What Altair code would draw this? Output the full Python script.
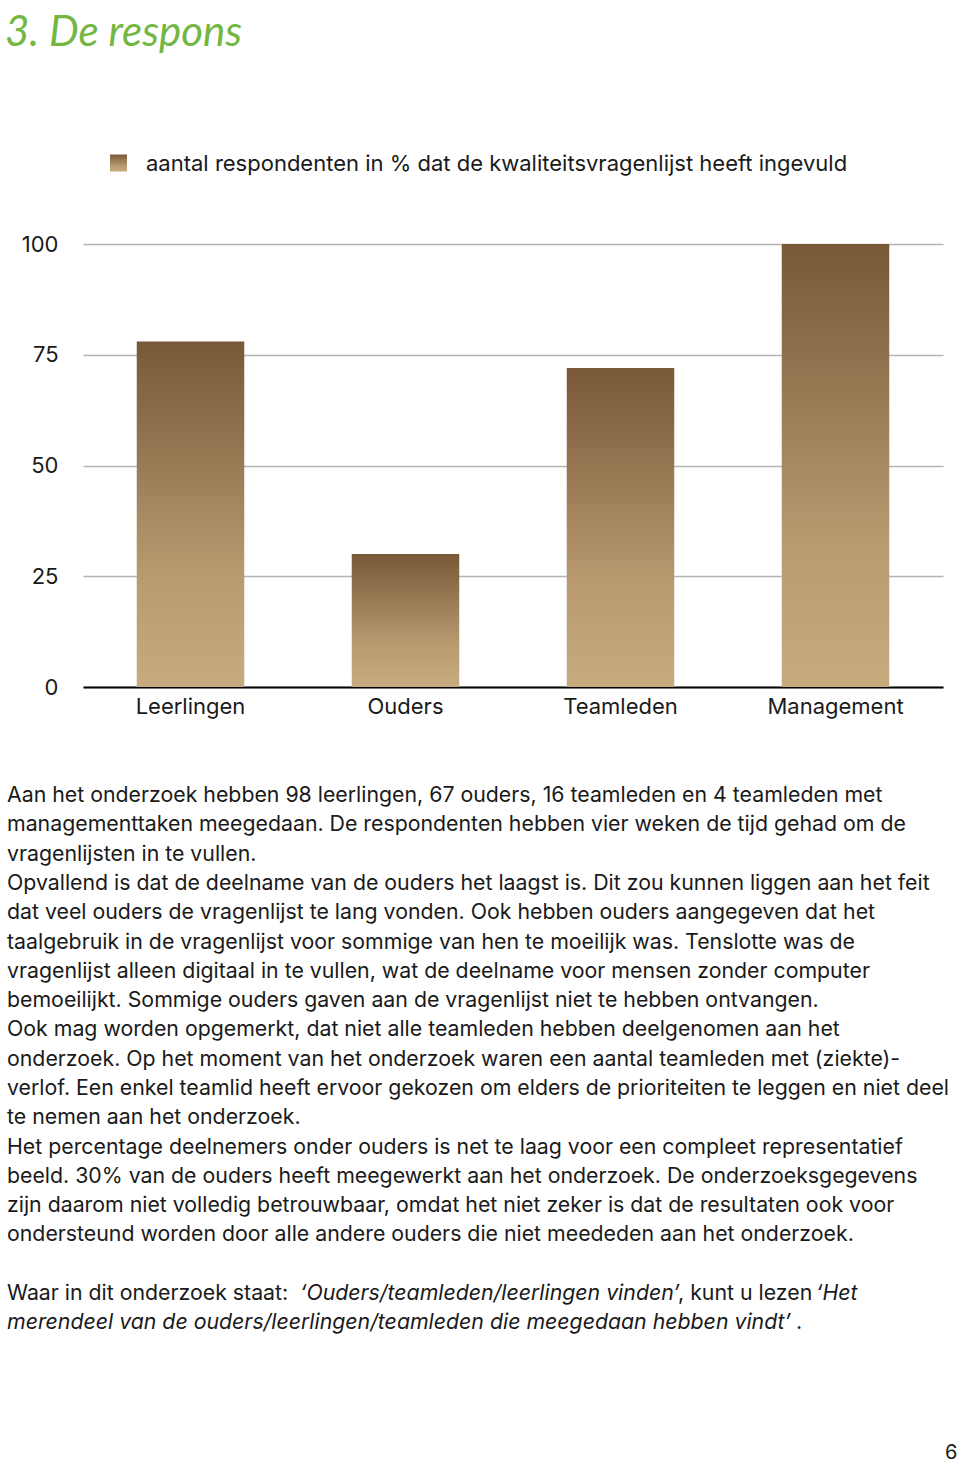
import altair as alt
import pandas as pd

# ---- data ----
categories = ["Leerlingen", "Ouders", "Teamleden", "Management"]
values = [78, 30, 72, 100]
y_ticks = [0, 25, 50, 75, 100]

title_text = "3. De respons"
legend_label = "aantal respondenten in % dat de kwaliteitsvragenlijst heeft ingevuld"
page_number = "6"

paragraph_lines = [
    "Aan het onderzoek hebben 98 leerlingen, 67 ouders, 16 teamleden en 4 teamleden met",
    "managementtaken meegedaan. De respondenten hebben vier weken de tijd gehad om de",
    "vragenlijsten in te vullen.",
    "Opvallend is dat de deelname van de ouders het laagst is. Dit zou kunnen liggen aan het feit",
    "dat veel ouders de vragenlijst te lang vonden. Ook hebben ouders aangegeven dat het",
    "taalgebruik in de vragenlijst voor sommige van hen te moeilijk was. Tenslotte was de",
    "vragenlijst alleen digitaal in te vullen, wat de deelname voor mensen zonder computer",
    "bemoeilijkt. Sommige ouders gaven aan de vragenlijst niet te hebben ontvangen.",
    "Ook mag worden opgemerkt, dat niet alle teamleden hebben deelgenomen aan het",
    "onderzoek. Op het moment van het onderzoek waren een aantal teamleden met (ziekte)-",
    "verlof. Een enkel teamlid heeft ervoor gekozen om elders de prioriteiten te leggen en niet deel",
    "te nemen aan het onderzoek.",
    "Het percentage deelnemers onder ouders is net te laag voor een compleet representatief",
    "beeld. 30% van de ouders heeft meegewerkt aan het onderzoek. De onderzoeksgegevens",
    "zijn daarom niet volledig betrouwbaar, omdat het niet zeker is dat de resultaten ook voor",
    "ondersteund worden door alle andere ouders die niet meededen aan het onderzoek.",
]

closing_line1 = ["Waar in dit onderzoek staat: ", "‘Ouders/teamleden/leerlingen vinden’", ", kunt u lezen ", "‘Het"]
closing_line2 = ["merendeel van de ouders/leerlingen/teamleden die meegedaan hebben vindt’", "."]

# ---- layout / style (not data) ----
FONT = "Inter"
TXT = "#1a1a1a"
PLOT_L, PLOT_T, PLOT_W, PLOT_H = 83, 244, 860, 443
LH = 29.3
P_X = 7 - PLOT_L
P_Y0 = 802 - PLOT_T
BODY = 21.3

bar_gradient = alt.LinearGradient(
    gradient="linear",
    stops=[
        alt.GradientStop(offset=0, color="#785836"),
        alt.GradientStop(offset=0.35, color="#9a7a55"),
        alt.GradientStop(offset=0.7, color="#bb9c72"),
        alt.GradientStop(offset=1, color="#c8aa7f"),
    ],
    x1=0, x2=0, y1=0, y2=1,
)

df = pd.DataFrame({"categorie": categories, "waarde": values})
one = pd.DataFrame({"k": [0]})

bars = alt.Chart(df).mark_bar(color=bar_gradient).encode(
    x=alt.X(
        "categorie:N",
        sort=categories,
        scale=alt.Scale(paddingInner=0.5, paddingOuter=0.25),
        axis=alt.Axis(
            title=None, labelAngle=0, ticks=False, domainColor="#000000",
            domainWidth=2, labelFont=FONT, labelFontSize=22, labelColor=TXT,
            labelPadding=9,
        ),
    ),
    y=alt.Y(
        "waarde:Q",
        scale=alt.Scale(domain=[0, 100], nice=False),
        axis=alt.Axis(
            title=None, values=y_ticks, domain=False, ticks=False,
            grid=True, gridColor="#b4b4b4", gridWidth=1.5,
            labelFont=FONT, labelFontSize=22, labelColor=TXT, labelPadding=25,
        ),
    ),
)


def text_layer(txt, x, y, size=BODY, color=TXT, italic=False, font=FONT, baseline="alphabetic", **kw):
    return alt.Chart(one).mark_text(
        text=txt, align="left", baseline=baseline, font=font, fontSize=size,
        color=color, fontStyle="italic" if italic else "normal", **kw
    ).encode(x=alt.value(x), y=alt.value(y))


title = text_layer(title_text, 5 - PLOT_L, 46 - PLOT_T, size=42, color="#74b642",
                   italic=True, font="Lato")

legend_sym = alt.Chart(one).mark_square(size=289, color=bar_gradient, opacity=1).encode(
    x=alt.value(118.5 - PLOT_L), y=alt.value(163 - PLOT_T)
)
legend_txt = text_layer(legend_label, 146 - PLOT_L, 164 - PLOT_T, size=22, baseline="middle")

paragraph = text_layer(paragraph_lines, P_X, P_Y0, lineHeight=LH)

y17 = P_Y0 + 17 * LH
y18 = P_Y0 + 18 * LH
seg_x1 = [7, 300, 678, 816]
seg_it1 = [False, True, False, True]
seg_x2 = [7, 796]
seg_it2 = [True, False]
closing = [
    text_layer(t, x - PLOT_L, y17, italic=it) for t, x, it in zip(closing_line1, seg_x1, seg_it1)
] + [
    text_layer(t, x - PLOT_L, y18, italic=it) for t, x, it in zip(closing_line2, seg_x2, seg_it2)
]

page = text_layer(page_number, 945 - PLOT_L, 1459 - PLOT_T, size=20)

chart = alt.layer(
    bars, title, legend_sym, legend_txt, paragraph, *closing, page
).properties(
    width=PLOT_W,
    height=PLOT_H,
    autosize=alt.AutoSizeParams(type="none"),
    padding={"left": PLOT_L, "top": PLOT_T, "right": 960 - PLOT_L - PLOT_W,
             "bottom": 1464 - PLOT_T - PLOT_H},
    background="white",
).configure_view(stroke="transparent")

chart.save("out.html", embed_options={"renderer": "svg", "actions": False})
